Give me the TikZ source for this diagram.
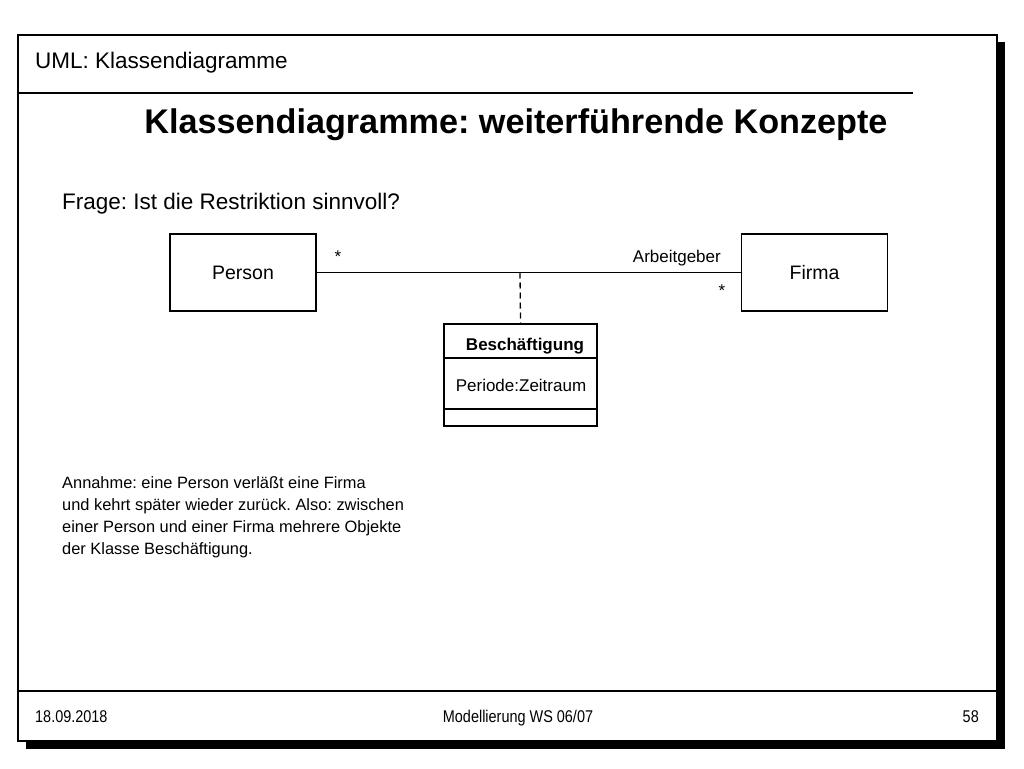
\documentclass[tikz,border=0pt]{standalone}
\usepackage{fontspec}
\setmainfont{Liberation Sans}
\newfontfamily\narrowfont[FakeStretch=0.85]{Liberation Sans}
\frenchspacing
\begin{document}
\begin{tikzpicture}[x=1pt,y=-1pt,
  txt/.style={inner sep=0pt,anchor=base west},
  cls/.style={draw,line width=1.3pt,minimum width=146pt,minimum height=77pt,inner sep=0pt,font=\fontsize{19.5}{22}\selectfont},
  mult/.style={inner sep=0pt,font=\fontsize{17}{20}\selectfont},
  assoc/.style={line width=1.8pt},
  frameline/.style={line width=1.4pt},
  foot/.style={inner sep=0pt,font=\narrowfont\fontsize{17}{20}\selectfont}]
\useasboundingbox (0,0) rectangle (1024,768);
\fill[white] (0,0) rectangle (1024,768);
% shadow
\fill[black] (26,42) rectangle (1005,749);
\fill[white] (18,35) rectangle (997,741);
\draw[frameline] (18,35) rectangle (997,741);
\draw[frameline] (18,93) -- (913,93);
\draw[frameline] (18,691) -- (997,691);
% header
\node[txt,font=\fontsize{22.5}{26}\selectfont] (hdr) at (35,68) {UML: Klassendiagramme};
\node[inner sep=0pt,anchor=base,font=\fontsize{34.2}{38}\bfseries\selectfont] (title) at (516,133) {Klassendiagramme: weiterführende Konzepte};
\node[txt,font=\fontsize{22.5}{26}\selectfont] (frage) at (62,209) {Frage: Ist die Restriktion sinnvoll?};
% classes
\node[cls] (person) at (243,272.5) {Person};
\node[cls] (firma) at (814.5,272.5) {Firma};
\draw[assoc] (person.east) -- (firma.west);
\coordinate (mid) at (520,272.5);
\node[mult,anchor=base] (m1) at (338,262) {*};
\node[mult,anchor=base east] (role) at (721,262) {Arbeitgeber};
\node[mult,anchor=base] (m2) at (722,296) {*};
% association class
\node[draw,line width=1.3pt,minimum width=153pt,minimum height=102pt,inner sep=0pt] (besch) at (520.5,375) {};
\draw[line width=1.3pt] (444,358) -- (597,358);
\draw[line width=1.3pt] (444,409) -- (597,409);
\node[inner sep=0pt,anchor=base,font=\fontsize{17}{20}\bfseries\selectfont] (bname) at (525,350) {Beschäftigung};
\node[inner sep=0pt,anchor=base,font=\fontsize{17}{20}\selectfont] (battr) at (521,391) {Periode:Zeitraum};
\draw[line width=1.3pt,dash pattern=on 6pt off 4pt] (mid) -- (besch.north);
% note
\node[txt,align=left,anchor=north west,font=\fontsize{16.4}{22}\selectfont] (note) at (62,476)
 {Annahme: eine Person verläßt eine Firma\\und kehrt später wieder zurück. Also: zwischen\\einer Person und einer Firma mehrere Objekte\\der Klasse Beschäftigung.};
% footer
\node[foot,anchor=base west] (date) at (35,722) {18.09.2018};
\node[foot,anchor=base] (course) at (518,722) {Modellierung WS 06/07};
\node[foot,anchor=base east] (page) at (979,722) {58};
\end{tikzpicture}
\end{document}
